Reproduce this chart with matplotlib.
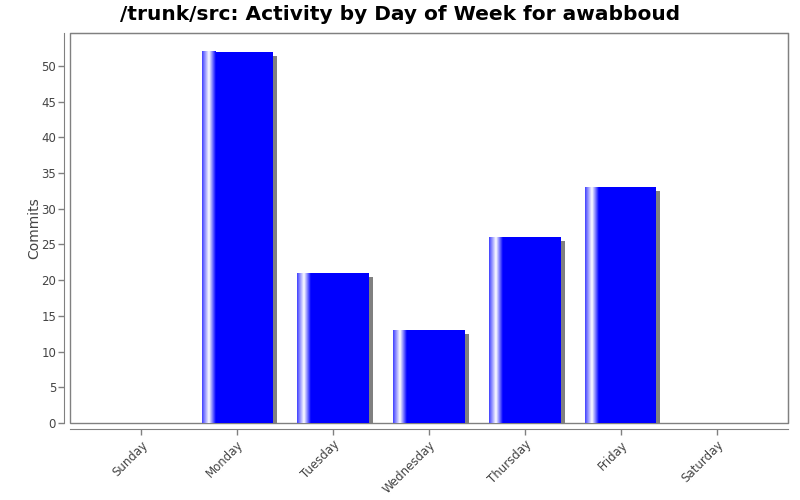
import numpy as np
import matplotlib
matplotlib.use("Agg")
import matplotlib.pyplot as plt
from matplotlib.transforms import ScaledTranslation

# data
days = ["Sunday", "Monday", "Tuesday", "Wednesday", "Thursday", "Friday", "Saturday"]
commits = [0, 52, 21, 13, 26, 33, 0]
y_ticks = [0, 5, 10, 15, 20, 25, 30, 35, 40, 45, 50]

bar_w = 0.74
blue = np.array([0.0, 0.0, 1.0])
grey = "#808080"
text_grey = "#444444"

fig = plt.figure(figsize=(8, 5), dpi=100)
ax = fig.add_axes([0.0875, 0.154, 0.8975, 0.78])

x = np.arange(len(days))

# shadow, shifted a few pixels right/down
shadow_tr = ax.transData + ScaledTranslation(4 / 100, -4 / 100, fig.dpi_scale_trans)
ax.bar(x, commits, width=bar_w, color=grey, transform=shadow_tr, zorder=1)
ax.bar(x, commits, width=bar_w, color=blue, zorder=2)

# gradient highlight on the left part of each bar
cols = 60
t = np.linspace(0, 1, cols)
dark = np.array([0.25, 0.25, 1.0])
white = np.array([1.0, 1.0, 1.0])
grad = np.zeros((cols, 3))
for k, v in enumerate(t):
    if v < 0.5:
        f = v / 0.5
        grad[k] = dark + (white - dark) * f
    else:
        f = (v - 0.5) / 0.5
        grad[k] = white + (blue - white) * f
img = grad[np.newaxis, :, :]
for xi, val in zip(x, commits):
    if val <= 0:
        continue
    x0 = xi - bar_w / 2
    ax.imshow(img, extent=[x0, x0 + 0.19 * bar_w, 0, val], aspect="auto",
              interpolation="bilinear", zorder=3)

ax.set_xlim(-0.74, 6.74)
ax.set_ylim(0, 54.6)
ax.set_xticks(x, days)
ax.set_yticks(y_ticks, [str(v) for v in y_ticks])
ax.tick_params(axis="both", colors=grey, labelcolor=text_grey, length=4, width=1,
               labelsize=8.5)
ax.tick_params(axis="x", pad=3, labelrotation=45)
ax.tick_params(axis="y", pad=2)

for side in ["top", "right", "left", "bottom"]:
    ax.spines[side].set_color(grey)
ax.spines["left"].set_position(("outward", 4))
ax.spines["bottom"].set_position(("outward", 4))
ax.patch.set_edgecolor(grey)
ax.patch.set_linewidth(1)

ax.set_ylabel("Commits", fontsize=10, color=text_grey, labelpad=0)
fig.suptitle("/trunk/src: Activity by Day of Week for awabboud",
             fontsize=14.5, fontweight="bold", y=0.99)

fig.canvas.draw()
for lab in ax.get_xticklabels():
    lab.set_rotation(45)
    lab.set_ha("right")
    lab.set_rotation_mode("anchor")

fig.savefig("out.png", dpi=100)
